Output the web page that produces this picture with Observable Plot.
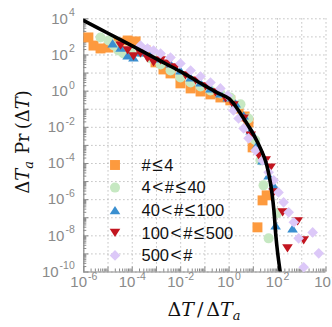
<!DOCTYPE html>
<html><head><meta charset="utf-8">
<script src="https://cdn.jsdelivr.net/npm/d3@7"></script>
<script src="https://cdn.jsdelivr.net/npm/@observablehq/plot@0.6"></script>
<style>body{margin:0;background:#fff}#chart{width:332px;height:327px}</style>
</head><body><div id="chart"></div>
<script>
// ---- data (log10 values) ----
const seriesNames = ["#≤4", "4<#≤40", "40<#≤100", "100<#≤500", "500<#"];
const seriesColors = ["#fd9a3e", "#c6e8c2", "#3a8fd0", "#c2151f", "#dcc8f8"];

const s1LogX = [-5.81,-5.60,-5.31,-4.98,-4.57,-4.19,-3.86,-3.45,-3.04,-2.71,-2.42,-2.01,-1.59,-1.18,-0.77,-0.36,0.05,0.39,0.64,0.80,0.97,1.38,1.55,1.17];
const s1LogY = [2.97,2.52,2.36,2.41,2.69,2.80,2.75,2.25,1.59,1.20,0.98,0.43,0.15,-0.02,-0.18,-0.35,-0.51,-0.96,-1.40,-1.73,-3.11,-6.04,-5.76,-7.53];

const s2LogX = [-5.31,-4.98,-4.77,-4.57,-4.36,-4.07,-3.66,-3.24,-2.83,-2.42,-2.01,-1.59,-1.18,-0.77,-0.36,0.05,0.47,0.80,1.08,1.29,1.42,1.98,1.63];
const s2LogY = [2.97,2.80,2.52,2.25,2.08,2.14,2.14,1.81,1.48,1.14,0.76,0.48,0.26,0.04,-0.13,-0.35,-0.73,-1.51,-2.72,-3.83,-5.21,-6.75,-8.14];

const s3LogX = [-4.81,-4.48,-4.19,-3.95,-3.66,-3.24,-2.83,-2.42,-2.01,-1.59,-1.18,-0.77,-0.36,-0.06,0.27,0.60,0.89,1.14,1.38,1.63,1.84,1.92,2.62];
const s3LogY = [2.64,2.41,1.97,1.86,2.14,1.97,1.81,1.53,1.14,0.76,0.48,0.15,-0.13,-0.35,-0.68,-1.34,-2.17,-3.00,-3.83,-4.66,-5.21,-7.42,-7.59];

const s4LogX = [-4.48,-4.19,-3.95,-3.66,-3.37,-3.12,-2.83,-2.54,-2.21,-1.80,-1.38,-0.97,-0.56,-0.15,0.18,0.60,0.89,1.22,1.51,1.71,1.84,2.21,2.83,3.08,2.41];
const s4LogY = [2.52,2.25,1.92,2.08,1.81,1.59,1.70,1.53,1.31,0.87,0.59,0.26,-0.07,-0.40,-0.79,-1.51,-2.45,-3.55,-3.83,-4.22,-5.60,-6.70,-7.20,-8.25,-8.69];

const s5LogX = [-3.66,-3.37,-3.12,-2.83,-2.42,-2.01,-1.59,-1.18,-0.77,-0.36,-0.06,0.18,0.39,0.60,0.80,1.09,1.38,1.63,1.84,2.04,2.25,2.46,2.67,2.87,3.45,3.70,3.08];
const s5LogY = [2.52,2.36,2.25,2.08,1.86,1.53,1.14,0.81,0.48,0.15,-0.24,-1.07,-1.51,-2.06,-2.61,-3.28,-3.83,-4.49,-4.93,-5.60,-6.15,-6.70,-7.25,-8.14,-7.81,-8.97,-9.74];

const fitLogX = [-6,-5,-4,-3,-2,-1,-0.5,0,0.5,0.9,1.2,1.5,1.71,1.85,1.92,2.0,2.12];
const fitLogY = [3.9,3.2,2.5,1.78,1.08,0.3,-0.08,-0.42,-1.3,-2.15,-2.9,-3.85,-5.1,-6.6,-7.85,-8.9,-10.1];

const xGridExp = [-6,-5,-4,-3,-2,-1,0,1,2,3,4];
const yGridExp = [4,3,2,1,0,-1,-2,-3,-4,-5,-6,-7,-8,-9,-10];
const xTickExp = [-6,-4,-2,0,2,4];
const yTickExp = [4,2,0,-2,-4,-6,-8,-10];

// ---- build tables ----
const allX = [s1LogX, s2LogX, s3LogX, s4LogX, s5LogX];
const allY = [s1LogY, s2LogY, s3LogY, s4LogY, s5LogY];
const series = allX.map((xs, i) => xs.map((lx, j) => ({x: 10 ** lx, y: 10 ** allY[i][j]})));
const fit = fitLogX.map((lx, j) => ({x: 10 ** lx, y: 10 ** fitLogY[j]}));
const minor = (exps) => exps.slice(0, -1).flatMap(e => d3.range(2, 10).map(k => k * 10 ** e));
const xMinor = minor([-6,-5,-4,-3,-2,-1,0,1,2,3,4]);
const yMinor = minor([-10,-9,-8,-7,-6,-5,-4,-3,-2,-1,0,1,2,3,4]);

// ---- symbols ----
const symSquare = {draw(c, s) { const h = Math.sqrt(s) * 0.56; c.rect(-h, -h, 2 * h, 2 * h); }};
const symCircle = {draw(c, s) { const r = Math.sqrt(s / Math.PI); c.moveTo(r, 0); c.arc(0, 0, r, 0, 2 * Math.PI); }};
const symUp = {draw(c, s) { const w = Math.sqrt(s) * 0.6, h = Math.sqrt(s) * 0.46; c.moveTo(0, -h); c.lineTo(w, h); c.lineTo(-w, h); c.closePath(); }};
const symDown = {draw(c, s) { const w = Math.sqrt(s) * 0.6, h = Math.sqrt(s) * 0.46; c.moveTo(0, h); c.lineTo(w, -h); c.lineTo(-w, -h); c.closePath(); }};
const symDiamond = {draw(c, s) { const d = Math.sqrt(s) * 0.6; c.moveTo(0, -d); c.lineTo(d, 0); c.lineTo(0, d); c.lineTo(-d, 0); c.closePath(); }};
const symbols = [symSquare, symCircle, symUp, symDown, symDiamond];

// ---- tick label helpers ----
const ctx = document.createElement("canvas").getContext("2d");
const FONT = "'Liberation Sans', Arial, sans-serif";
const baseSize = 15, expSize = 10.5;
function w(text, size) { ctx.font = `${size}px ${FONT}`; return ctx.measureText(text).width; }
const expStr = e => (e < 0 ? "-" : "") + Math.abs(e);
const tickGrey = "#8a8a8a";

const xLabelMarks = xTickExp.flatMap(e => {
  const wb = w("10", baseSize), we = w(expStr(e), expSize);
  const total = wb + 1 + we;
  return [
    Plot.text([10 ** e], {x: d => d, frameAnchor: "bottom", text: () => "10", textAnchor: "start", dx: -total / 2, dy: 15, fontSize: baseSize, fill: tickGrey, fontFamily: FONT}),
    Plot.text([10 ** e], {x: d => d, frameAnchor: "bottom", text: () => expStr(e), textAnchor: "start", dx: -total / 2 + wb + 1, dy: 7.5, fontSize: expSize, fill: tickGrey, fontFamily: FONT})
  ];
});
const yLabelMarks = yTickExp.flatMap(e => {
  const we = w(expStr(e), expSize);
  return [
    Plot.text([10 ** e], {y: d => d, frameAnchor: "left", text: () => "10", textAnchor: "end", dx: -9 - we - 1, dy: 0, fontSize: baseSize, fill: tickGrey, fontFamily: FONT}),
    Plot.text([10 ** e], {y: d => d, frameAnchor: "left", text: () => expStr(e), textAnchor: "end", dx: -9, dy: -6, fontSize: expSize, fill: tickGrey, fontFamily: FONT})
  ];
});

const chart = Plot.plot({
  width: 332, height: 327,
  marginLeft: 83.3, marginRight: 6.5, marginTop: 18.3, marginBottom: 55.5,
  style: {background: "white", overflow: "visible"},
  x: {type: "log", domain: [1e-6, 1e4], axis: null},
  y: {type: "log", domain: [1e-10, 1e4], axis: null},
  marks: [
    Plot.ruleX(xGridExp.map(e => 10 ** e), {x: d => d, stroke: "#b0b0b0", strokeDasharray: "1.2,2.8", strokeWidth: 1}),
    Plot.ruleY(yGridExp.map(e => 10 ** e), {y: d => d, stroke: "#b0b0b0", strokeDasharray: "1.2,2.8", strokeWidth: 1}),
    Plot.axisX({anchor: "bottom", ticks: xMinor, tickSize: -3, tickFormat: () => "", label: null, stroke: tickGrey}),
    Plot.axisX({anchor: "bottom", ticks: xGridExp.map(e => 10 ** e), tickSize: -5, tickFormat: () => "", label: null, stroke: tickGrey}),
    Plot.axisY({anchor: "left", ticks: yMinor, tickSize: -3, tickFormat: () => "", label: null, stroke: tickGrey}),
    Plot.axisY({anchor: "left", ticks: yGridExp.map(e => 10 ** e), tickSize: -5, tickFormat: () => "", label: null, stroke: tickGrey}),
    Plot.ruleX([1e-6], {x: d => d, stroke: tickGrey, strokeWidth: 1.2}),
    Plot.ruleY([1e-10], {y: d => d, stroke: tickGrey, strokeWidth: 1.2}),
    ...series.map((data, i) => Plot.dot(data, {x: "x", y: "y", r: 5, symbol: symbols[i], fill: seriesColors[i], stroke: "none"})),
    Plot.line(fit, {x: "x", y: "y", stroke: "black", strokeWidth: 3.6, curve: "catmull-rom", clip: true}),
    ...xLabelMarks,
    ...yLabelMarks
  ]
});

const svg = d3.select(chart);
// axis titles
const xt = svg.append("text").attr("x", 204).attr("y", 316).attr("text-anchor", "middle")
  .attr("font-family", "'DejaVu Serif', serif").attr("font-size", 19).attr("fill", "#111");
xt.append("tspan").text("Δ");
xt.append("tspan").attr("font-style", "italic").text("T");
xt.append("tspan").attr("dx", 3).text("/");
xt.append("tspan").attr("dx", 3).text("Δ");
xt.append("tspan").attr("font-style", "italic").text("T");
xt.append("tspan").attr("font-style", "italic").attr("font-size", 13).attr("dy", 4).text("a");

const yt = svg.append("text").attr("transform", "translate(29,142) rotate(-90)").attr("text-anchor", "middle")
  .attr("font-family", "'DejaVu Serif', serif").attr("font-size", 18).attr("fill", "#111");
yt.append("tspan").text("Δ");
yt.append("tspan").attr("font-style", "italic").text("T");
yt.append("tspan").attr("font-style", "italic").attr("font-size", 13).attr("dy", 4).text("a");
yt.append("tspan").attr("dy", -4).attr("dx", 7).text("Pr");
yt.append("tspan").attr("dx", 4).text("(Δ");
yt.append("tspan").attr("font-style", "italic").text("T");
yt.append("tspan").text(")");

// legend
const lg = svg.append("g").attr("text-anchor", "start");
seriesNames.forEach((name, i) => {
  const cy = 165 + i * 22.6;
  const p = d3.path(); symbols[i].draw(p, Math.PI * 25);
  lg.append("path").attr("d", p.toString()).attr("transform", `translate(115,${cy})`).attr("fill", seriesColors[i]);
  const t = lg.append("text").attr("x", 140).attr("y", cy).attr("dy", "0.35em").attr("text-anchor", "start").attr("font-family", FONT)
    .attr("font-size", 16.5).attr("fill", "#111");
  // split around relation symbols to mimic math spacing
  name.split(/([<≤])/).forEach(part => {
    if (part === "") return;
    if (part === "<" || part === "≤") t.append("tspan").attr("dx", 1.5).attr("font-size", 19).text(part);
    else t.append("tspan").attr("dx", 1.5).text(part);
  });
});

document.getElementById("chart").appendChild(chart);
</script></body></html>
